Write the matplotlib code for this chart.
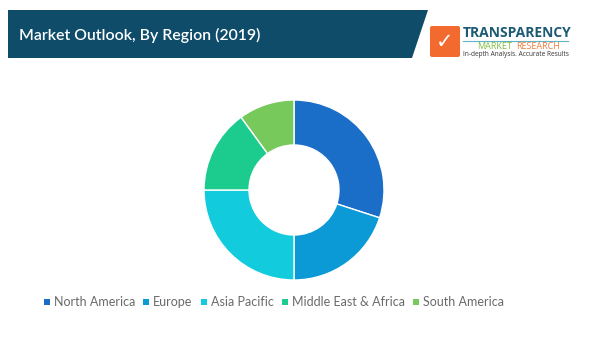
import matplotlib.pyplot as plt
from matplotlib.patches import Polygon, Rectangle, FancyBboxPatch

regions = ['North America', 'Europe', 'Asia Pacific', 'Middle East & Africa', 'South America']
shares = [30, 20, 25, 15, 10]
colors = ['#1a6ec8', '#0c9ad6', '#12cbdc', '#1ccc8e', '#78c95c']

title = 'Market Outlook, By Region (2019)'

W, H = 607, 360
fig = plt.figure(figsize=(W / 100, H / 100), dpi=100)
fig.patch.set_facecolor('white')

# banner + logo drawn in pixel coords on a full-figure axes
bg = fig.add_axes([0, 0, 1, 1])
bg.set_xlim(0, W)
bg.set_ylim(H, 0)
bg.axis('off')
bg.add_patch(Polygon([(8, 10), (428, 10), (412, 58), (8, 58)], closed=True,
                     facecolor='#0e4c69', edgecolor='none'))
bg.text(19, 35, title, color='white', fontsize=11.4, va='center', ha='left',
        family='Lato', fontweight='semibold')

bg.add_patch(FancyBboxPatch((430, 26), 30, 31, boxstyle='round,pad=0,rounding_size=2',
                            facecolor='#f26a2e', edgecolor='none'))
bg.text(445, 42, '✓', color='white', fontsize=15, ha='center', va='center',
        family='DejaVu Sans', fontweight='bold')
bg.text(463, 33, 'TRANSPARENCY', color='#1d5a73', fontsize=10, fontweight='bold',
        ha='left', va='center', family='Open Sans')
bg.plot([463, 568], [40.5, 40.5], color='#5fb3c8', lw=0.8)
bg.text(477, 46.5, 'MARKET', color='#7dbf3f', fontsize=6.5, ha='left', va='center',
        family='Open Sans')
bg.text(516, 46.5, 'RESEARCH', color='#ef7d3a', fontsize=6.5, ha='left', va='center',
        family='Open Sans')
bg.text(463, 54, 'In-depth Analysis. Accurate Results', color='#333333', fontsize=4.7,
        ha='left', va='center', family='Open Sans')

# donut
ax = fig.add_axes([(294 - 92) / W, 1 - (190 + 92) / H, 184 / W, 184 / H])
ax.pie(shares, colors=colors, startangle=90, counterclock=False,
       radius=1.0, wedgeprops=dict(width=0.5, edgecolor='white', linewidth=1))
ax.set_xlim(-92 / 90, 92 / 90)
ax.set_ylim(-92 / 90, 92 / 90)
ax.set_aspect('equal')

# legend
x = 44
for name, c in zip(regions, colors):
    bg.add_patch(Rectangle((x, 299), 6, 6, facecolor=c, edgecolor='none'))
    t = bg.text(x + 10, 302, name, color='#6a6a6a', fontsize=9.0, ha='left',
                va='center', family='Lato')
    fig.canvas.draw()
    bb = t.get_window_extent()
    x = bb.x1 + 8

fig.savefig('out.png', dpi=100, facecolor='white')
